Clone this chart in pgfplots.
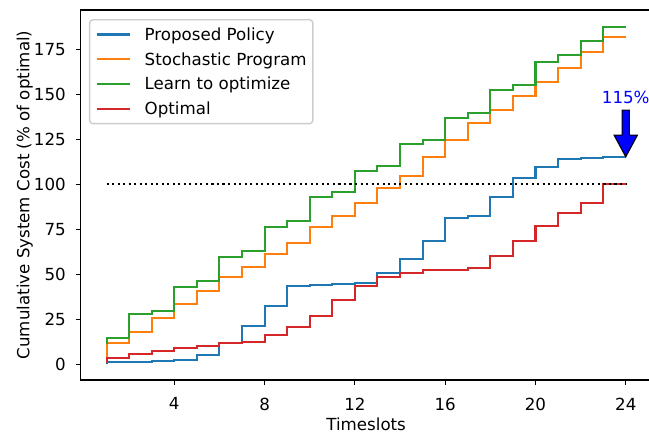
\documentclass[border=0pt]{standalone}
\usepackage{pgfplots}
\pgfplotsset{compat=1.18}
\usepackage{fontspec}
\setmainfont{DejaVu Sans}
\definecolor{c0}{RGB}{31,119,180}
\definecolor{c1}{RGB}{255,127,14}
\definecolor{c2}{RGB}{44,160,44}
\definecolor{c3}{RGB}{214,39,40}
\newcommand{\fs}{\fontsize{12}{14.4}\selectfont}
\begin{document}
\begin{tikzpicture}
\begin{axis}[
  at={(0,0)}, anchor=south west,
  scale only axis, width=411.2pt, height=266.4pt,
  xmin=-0.15, xmax=25.15, ymin=-8.7, ymax=196.8,
  xtick={4,8,12,16,20,24}, ytick={0,25,50,75,100,125,150,175},
  tick align=outside, tick pos=left, major tick length=3.5pt,
  every tick/.style={black, line width=0.8pt},
  axis line style={black, line width=0.8pt},
  /pgf/number format/assume math mode=true,
  ticklabel style={font=\fs},
  xticklabel style={anchor=north, inner sep=0pt, yshift=-9pt},
  yticklabel style={anchor=east, inner sep=0pt, xshift=-7pt},
  xlabel={Timeslots}, ylabel={Cumulative System Cost (\% of optimal)},
  every axis x label/.style={at={(axis description cs:0.5,-0.1363)}, anchor=base, font=\fs},
  every axis y label/.style={at={(axis description cs:-0.0897,0.5)}, rotate=90, anchor=base, font=\fs},
  legend style={at={(axis description cs:0.0147,0.9756)}, anchor=north west,
    draw=black!20, line width=1pt, rounded corners=2.4pt, fill=white,
    inner xsep=4.5pt, inner ysep=3.7pt, row sep=3.95pt, font=\fs,
    nodes={inner sep=0pt, text height=11.1pt, text depth=2.8pt},
    /tikz/every odd column/.append style={column sep=9.6pt}},
  legend cell align=left,
  legend image code/.code={\draw[#1, line width=1.5pt] (0pt,0pt) -- (24pt,0pt);},
]
\addplot[c0, line width=1.5pt, const plot mark right] coordinates {
(1,0.3) (2,1.1) (3,1.5) (4,2.1) (5,2.6) (6,5.2) (7,11.7) (8,21.5) (9,32.6) (10,43.5)
(11,44.2) (12,44.6) (13,45.3) (14,50.5) (15,58.3) (16,68.5) (17,81.1) (18,82.4)
(19,92.8) (20,103.3) (21,109.8) (22,114.1) (23,114.8) (24,115.4)};
\addlegendentry{Proposed Policy}
\addplot[c1, line width=1.5pt, const plot mark right] coordinates {
(1,3.5) (2,11.7) (3,18.1) (4,25.5) (5,33.3) (6,40.9) (7,48.3) (8,53.9) (9,61.3) (10,67.6)
(11,76.5) (12,82.4) (13,89.5) (14,97.8) (15,104.8) (16,115.3) (17,124.6) (18,133.9)
(19,141.3) (20,149.2) (21,157.0) (22,164.4) (23,173.7) (24,181.7)};
\addlegendentry{Stochastic Program}
\addplot[c2, line width=1.5pt, const plot mark right] coordinates {
(1,11.5) (2,14.4) (3,27.9) (4,29.8) (5,43.1) (6,46.5) (7,59.8) (8,62.9) (9,76.5) (10,79.6)
(11,93.1) (12,95.7) (13,107.6) (14,110.3) (15,122.2) (16,124.6) (17,136.7) (18,139.4)
(19,152.4) (20,155.2) (21,168.1) (22,171.8) (23,179.6) (24,187.6)};
\addlegendentry{Learn to optimize}
\addplot[c3, line width=1.5pt, const plot mark right] coordinates {
(1,0.8) (2,3.3) (3,5.7) (4,7.4) (5,9.2) (6,10.3) (7,11.7) (8,12.2) (9,16.3) (10,20.6)
(11,26.6) (12,35.8) (13,43.5) (14,48.3) (15,50.9) (16,52.4) (17,52.6) (18,53.3)
(19,60.3) (20,68.7) (21,76.8) (22,83.9) (23,89.4) (24,100)};
\addlegendentry{Optimal}
\addplot[black, line width=1.5pt, dash pattern=on 1.5pt off 2.475pt, forget plot] coordinates {(1,100) (24,100)};
\draw[black, line width=0.8pt, fill=blue, line join=miter]
  (axis cs:24,115.3) -- ([shift={(-8.4pt,15.6pt)}]axis cs:24,115.3)
  -- ([shift={(-2.6pt,15.6pt)}]axis cs:24,115.3) -- ([shift={(-2.6pt,33.6pt)}]axis cs:24,115.3)
  -- ([shift={(2.6pt,33.6pt)}]axis cs:24,115.3) -- ([shift={(2.6pt,15.6pt)}]axis cs:24,115.3)
  -- ([shift={(8.4pt,15.6pt)}]axis cs:24,115.3) -- cycle;
\node[text=blue, anchor=base, font=\fs] at (axis cs:24,145) {115\%};
\end{axis}
\pgfresetboundingbox
\path[use as bounding box] (-58.03pt,-40.32pt) rectangle (409.25pt,273.6pt);
\end{tikzpicture}
\end{document}
